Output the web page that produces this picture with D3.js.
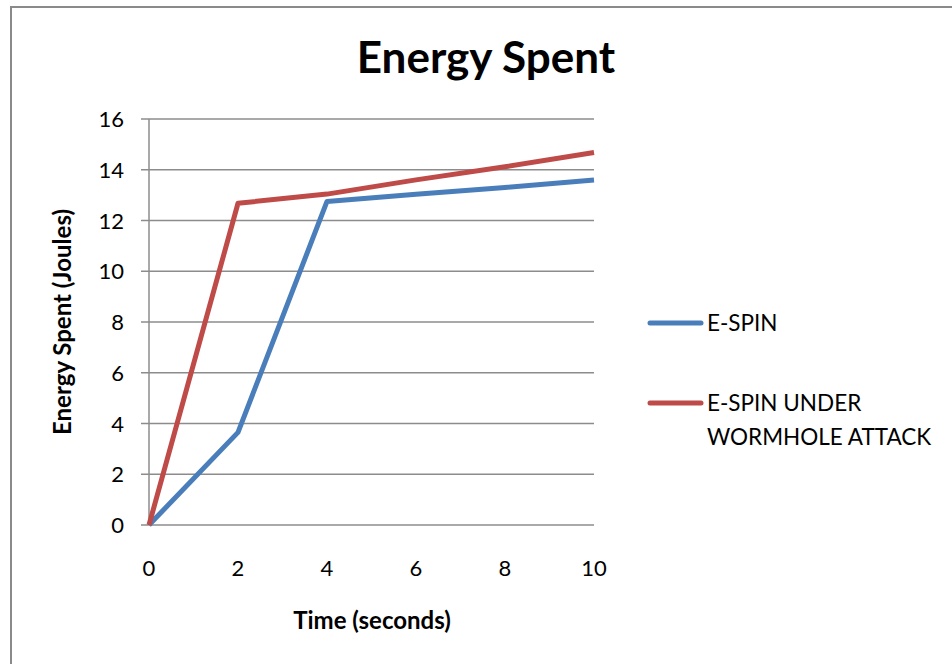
<!DOCTYPE html>
<html>
<head>
<meta charset="utf-8">
<script src="https://cdn.jsdelivr.net/npm/d3@7"></script>
<style>
  body { margin: 0; background: #fff; }
  text { font-family: Lato, "Open Sans", sans-serif; fill: #000; }
</style>
</head>
<body>
<div id="chart"></div>
<script>
// Données du graphique
const times = [0, 2, 4, 6, 8, 10];
const espin = [0, 3.65, 12.75, 13.03, 13.3, 13.6];
const espinAttack = [0, 12.68, 13.04, 13.6, 14.12, 14.68];
const yTicks = [0, 2, 4, 6, 8, 10, 12, 14, 16];
const xTicks = [0, 2, 4, 6, 8, 10];
const seriesNames = ["E-SPIN", "E-SPIN UNDER WORMHOLE ATTACK"];
const seriesColors = ["#4a7ebb", "#be4b48"];

const w = 952, h = 664;
const svg = d3.select("#chart").append("svg")
    .attr("width", w)
    .attr("height", h);

// cadre du graphique
svg.append("rect")
    .attr("x", 11).attr("y", 7)
    .attr("width", 960).attr("height", 680)
    .attr("fill", "none")
    .attr("stroke", "#8a8a8a")
    .attr("stroke-width", 2);

const x = d3.scaleLinear().domain([0, 10]).range([149, 594]);
const y = d3.scaleLinear().domain([0, 16]).range([525, 119]);

// grille horizontale + petites graduations
const grid = svg.append("g");
grid.selectAll("line")
    .data(yTicks)
    .enter()
    .append("line")
    .attr("x1", 141)
    .attr("x2", x(10))
    .attr("y1", d => y(d))
    .attr("y2", d => y(d))
    .attr("stroke", "#8c8c8c")
    .attr("stroke-width", 1.5);

svg.append("line")
    .attr("x1", x(0)).attr("x2", x(0))
    .attr("y1", y(16)).attr("y2", y(0))
    .attr("stroke", "#8c8c8c")
    .attr("stroke-width", 1.5);

svg.append("g").selectAll("text")
    .data(yTicks)
    .enter()
    .append("text")
    .attr("x", 124)
    .attr("y", d => y(d) + 8)
    .attr("text-anchor", "end")
    .style("font-size", "22px")
    .text(d => d);

svg.append("g").selectAll("text")
    .data(xTicks)
    .enter()
    .append("text")
    .attr("x", d => x(d))
    .attr("y", 576)
    .attr("text-anchor", "middle")
    .style("font-size", "22px")
    .text(d => d);

// titres
svg.append("text")
    .attr("x", 486).attr("y", 73)
    .attr("text-anchor", "middle")
    .style("font-size", "44px")
    .style("font-weight", "bold")
    .text("Energy Spent");

svg.append("text")
    .attr("x", 372).attr("y", 629)
    .attr("text-anchor", "middle")
    .style("font-size", "24px")
    .style("font-weight", "bold")
    .text("Time (seconds)");

svg.append("text")
    .attr("transform", "translate(71,322) rotate(-90)")
    .attr("text-anchor", "middle")
    .style("font-size", "24px")
    .style("font-weight", "bold")
    .text("Energy Spent (Joules)");

// courbes
const line = d3.line()
    .x((d, i) => x(times[i]))
    .y(d => y(d));

[espin, espinAttack].forEach((vals, i) => {
    svg.append("path")
        .datum(vals)
        .attr("d", line)
        .attr("fill", "none")
        .attr("stroke", seriesColors[i])
        .attr("stroke-width", 5)
        .attr("stroke-linejoin", "round");
});

// légende
const legendY = [323, 403];
const legendLines = [["E-SPIN"], ["E-SPIN UNDER", "WORMHOLE ATTACK"]];
seriesNames.forEach((name, i) => {
    svg.append("line")
        .attr("x1", 650).attr("x2", 701)
        .attr("y1", legendY[i]).attr("y2", legendY[i])
        .attr("stroke", seriesColors[i])
        .attr("stroke-width", 5)
        .attr("stroke-linecap", "round");
    legendLines[i].forEach((t, j) => {
        svg.append("text")
            .attr("x", 707)
            .attr("y", legendY[i] + 8 + j * 34)
            .style("font-size", "22.5px")
            .text(t);
    });
});
</script>
</body>
</html>
